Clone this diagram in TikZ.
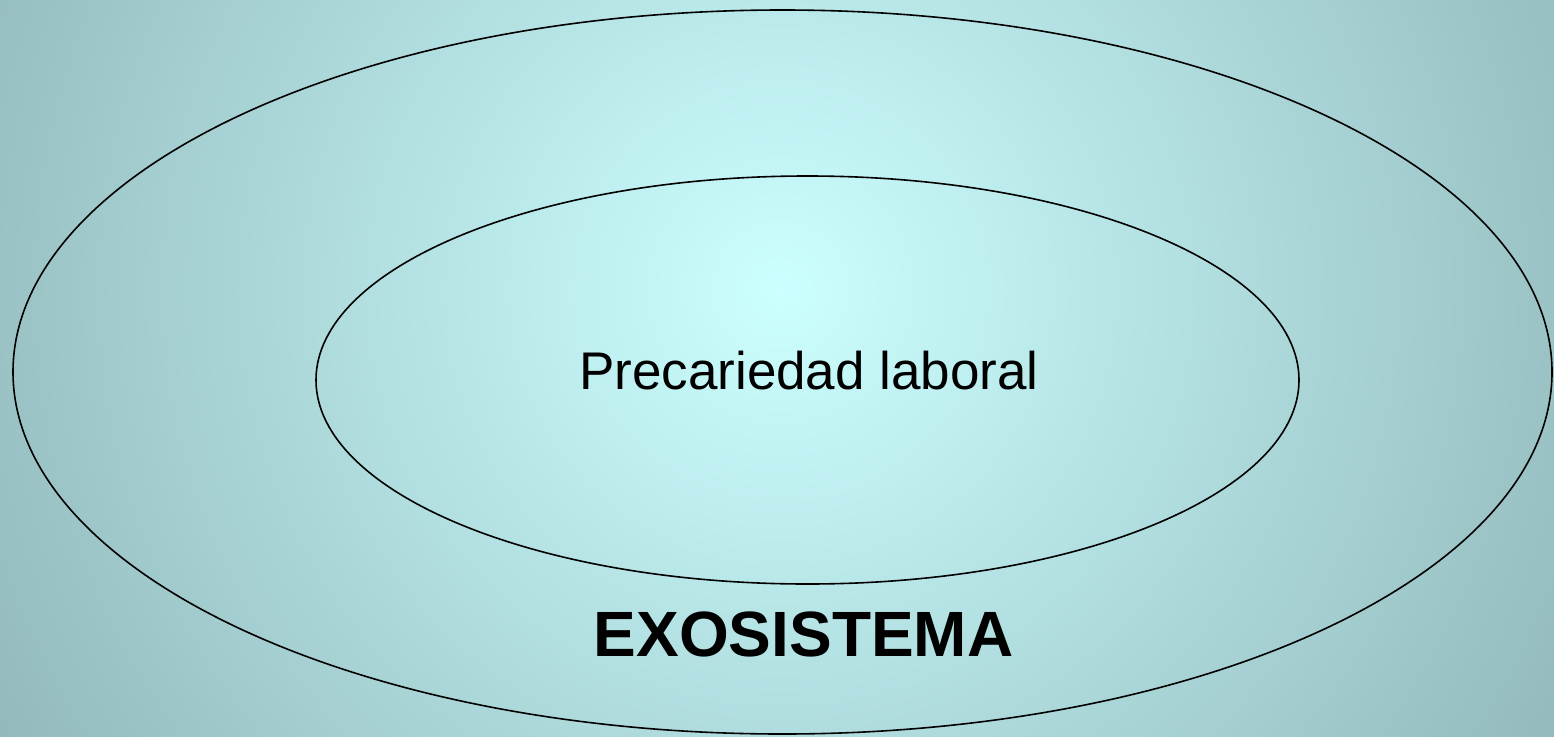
\documentclass[tikz,border=0pt]{standalone}
\usepackage{fontspec}
\setmainfont{Liberation Sans}
\usetikzlibrary{shapes.geometric}

\definecolor{bgcenter}{RGB}{204,255,255}
\definecolor{bgedge}{RGB}{143,180,184}

\tikzset{
  ring/.style={draw=black, line width=1.6pt, ellipse, inner sep=0pt, outer sep=0pt},
  inlabel/.style={anchor=base, font=\fontsize{53}{60}\selectfont},
  outlabel/.style={anchor=base, font=\fontsize{64}{72}\selectfont\bfseries}
}

\begin{document}
\begin{tikzpicture}[x=1pt, y=-1pt]
    \useasboundingbox (0,0) rectangle (1554,736);

    % Background
    \begin{scope}
      \clip (0,0) rectangle (1554,736);
      \shade[inner color=bgcenter, outer color=bgedge] (780,290) circle (960);
    \end{scope}

    % Rings
    \node[ring, minimum width=1539pt, minimum height=724pt] (exo) at (782.5,372) {};
    \node[ring, minimum width=983pt, minimum height=408pt] (prec) at (807.5,380) {};

    % Labels
    \node[inlabel] (preclabel) at (809,389) {Precariedad laboral};
    \node[outlabel] (exolabel) at (803.5,656) {EXOSISTEMA};
\end{tikzpicture}
\end{document}
